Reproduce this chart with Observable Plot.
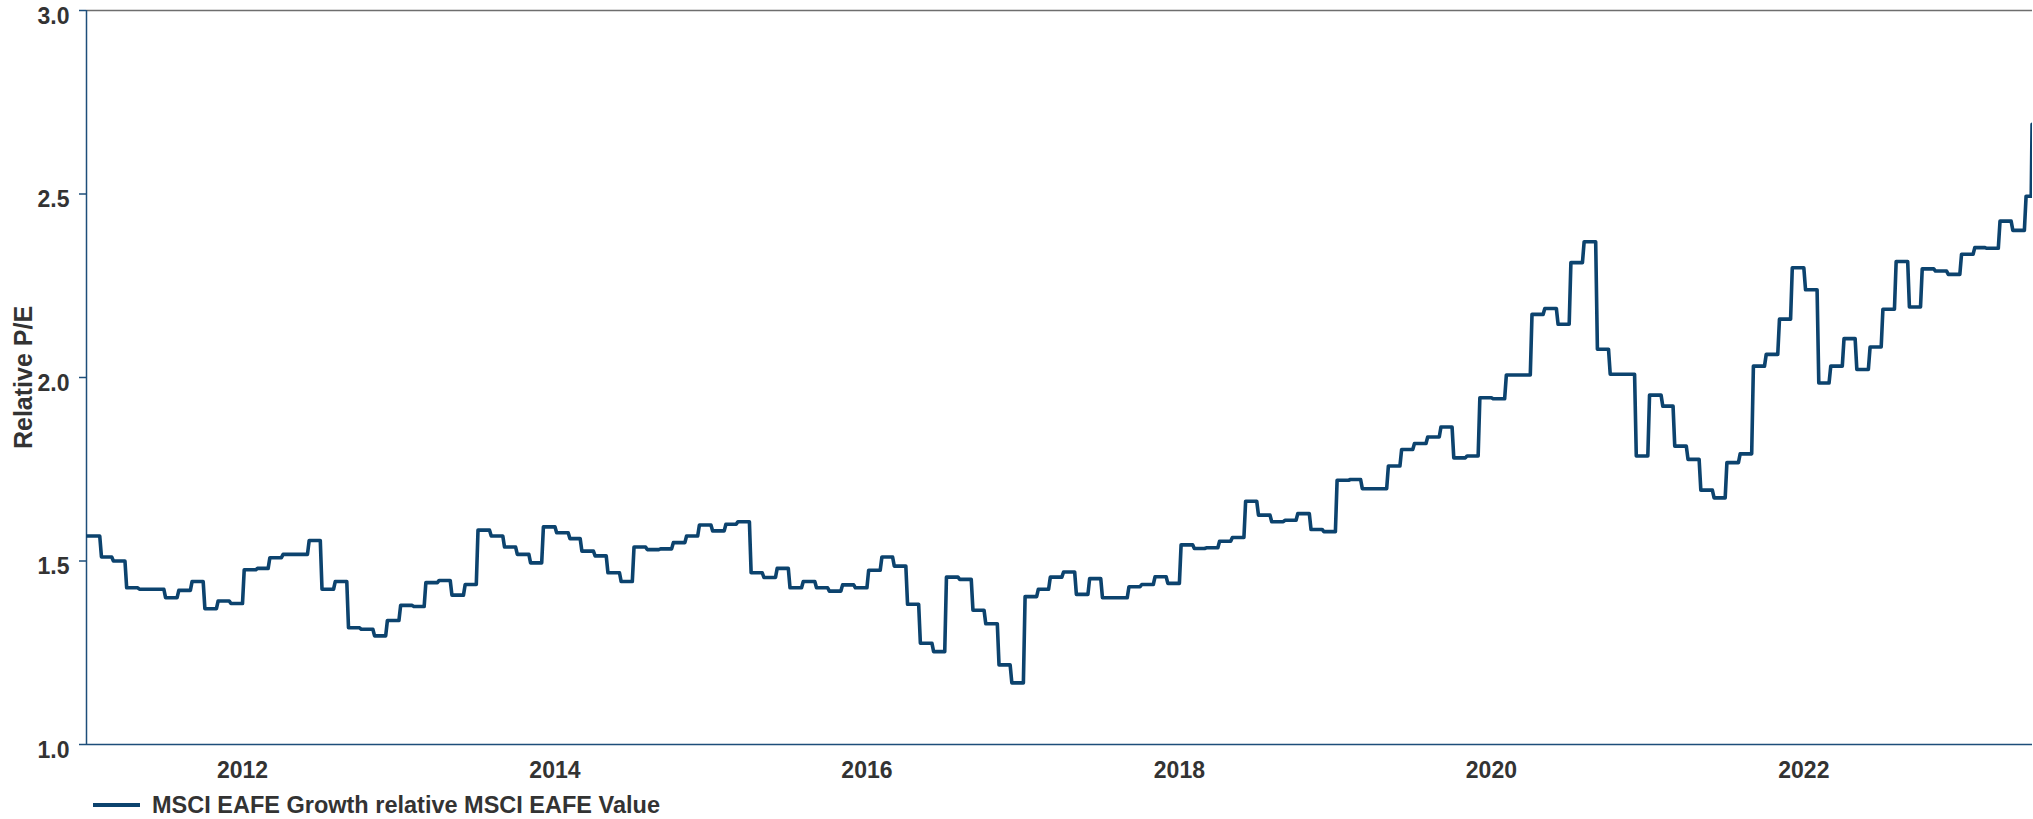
<!DOCTYPE html>
<html>
<head>
<meta charset="utf-8">
<script src="https://cdn.jsdelivr.net/npm/d3@7"></script>
<script src="https://cdn.jsdelivr.net/npm/@observablehq/plot@0.6"></script>
<style>
  html, body { margin: 0; padding: 0; background: #fff; font-family: "Liberation Sans", Arial, sans-serif; }
  #wrap { position: relative; width: 2033px; height: 819px; overflow: hidden; background: #fff; }
  #chart { position: absolute; left: 0; top: 0; width: 2033px; height: 790px; }
  #chart svg { display: block; }
  #legend { position: absolute; left: 93px; top: 792px; height: 26px; display: flex; align-items: center;
            font-weight: bold; font-size: 23.5px; color: #333; white-space: nowrap; }
  #legend .sw { display: inline-block; width: 47px; height: 4px; background: #0c436e; margin-right: 12px; }
</style>
</head>
<body>
<div id="wrap">
  <div id="chart"></div>
  <div id="legend"><span class="sw"></span><span id="legtext"></span></div>
</div>
<script>
// ---- data (monthly values) ----
const seriesName = "MSCI EAFE Growth relative MSCI EAFE Value";
const yTitle = "Relative P/E";
const years = [2011, 2012, 2013, 2014, 2015, 2016, 2017, 2018, 2019, 2020, 2021, 2022, 2023];
const v2011 = [1.568, 1.511, 1.500, 1.427, 1.423, 1.423, 1.400, 1.420, 1.444, 1.370, 1.391, 1.384];
const v2012 = [1.476, 1.480, 1.509, 1.518, 1.518, 1.556, 1.423, 1.444, 1.318, 1.314, 1.296, 1.338];
const v2013 = [1.379, 1.376, 1.441, 1.447, 1.407, 1.436, 1.584, 1.568, 1.538, 1.518, 1.495, 1.593];
const v2014 = [1.577, 1.561, 1.527, 1.514, 1.468, 1.444, 1.538, 1.531, 1.533, 1.550, 1.568, 1.598];
const v2015 = [1.582, 1.600, 1.607, 1.468, 1.455, 1.480, 1.427, 1.444, 1.427, 1.418, 1.435, 1.427];
const v2016 = [1.475, 1.511, 1.486, 1.382, 1.276, 1.253, 1.456, 1.450, 1.366, 1.329, 1.217, 1.168];
const v2017 = [1.403, 1.423, 1.456, 1.470, 1.409, 1.452, 1.400, 1.400, 1.430, 1.436, 1.457, 1.439];
const v2018 = [1.544, 1.534, 1.536, 1.554, 1.564, 1.663, 1.625, 1.607, 1.611, 1.629, 1.586, 1.580];
const v2019 = [1.720, 1.722, 1.697, 1.697, 1.759, 1.804, 1.820, 1.838, 1.865, 1.781, 1.786, 1.945];
const v2020 = [1.942, 2.007, 2.007, 2.172, 2.188, 2.145, 2.313, 2.370, 2.077, 2.009, 2.009, 1.786];
const v2021 = [1.952, 1.922, 1.813, 1.777, 1.693, 1.672, 1.768, 1.792, 2.031, 2.063, 2.159, 2.299];
const v2022 = [2.239, 1.985, 2.031, 2.106, 2.022, 2.083, 2.186, 2.316, 2.192, 2.296, 2.290, 2.281];
const v2023 = [2.336, 2.354, 2.352, 2.426, 2.401, 2.494];
const lastDate = "2023-06-19";
const lastValue = 2.69;
const xStart = "2011-01-01";
const xEnd = "2023-06-20";
const yTicks = [1.0, 1.5, 2.0, 2.5, 3.0];
const xTickYears = [2012, 2014, 2016, 2018, 2020, 2022];

// ---- build table ----
const yearValues = [v2011, v2012, v2013, v2014, v2015, v2016, v2017, v2018, v2019, v2020, v2021, v2022, v2023];
const last = new Date(lastDate + "T00:00:00Z");
const data = [];
yearValues.forEach((vals, i) => vals.forEach((v, m) => {
  const start = new Date(Date.UTC(years[i], m, (i === 0 && m === 0) ? 1 : 5));
  let end = new Date(Date.UTC(years[i], m + 1, 1));
  if (end >= last) end = new Date(+last - 2 * 864e5);
  data.push({date: start, value: v}, {date: end, value: v});
}));
data.push({date: last, value: lastValue});

const xDomain = [new Date(xStart + "T00:00:00Z"), new Date(xEnd + "T00:00:00Z")];
const xTicks = xTickYears.map(y => new Date(Date.UTC(y, 0, 1)));

const lineBlue = "#0c436e";
const axisBlue = "#1d4e7a";
const textColor = "#333333";

const chart = Plot.plot({
  width: 2033,
  height: 790,
  marginLeft: 86,
  marginRight: 1,
  marginTop: 10,
  marginBottom: 46,
  style: {fontFamily: "'Liberation Sans', Arial, sans-serif", fontSize: "23px", fontWeight: "bold", color: textColor, background: "#fff"},
  x: {type: "utc", domain: xDomain},
  y: {domain: [1, 3]},
  marks: [
    Plot.ruleY([3], {stroke: "#6e6e6e", strokeWidth: 1.5}),
    Plot.ruleY([1], {stroke: axisBlue, strokeWidth: 1.5}),
    Plot.ruleX([xDomain[0]], {stroke: axisBlue, strokeWidth: 1.5}),
    // tick marks only
    Plot.axisY({ticks: yTicks, tickSize: 7, stroke: axisBlue, strokeWidth: 1.5, fill: "none", label: null}),
    // tick labels only (slightly lowered, as in the reference)
    Plot.axisY({ticks: yTicks, tickFormat: d3.format(".1f"), tickSize: 0, tickPadding: 17, dy: 6,
                fill: textColor, label: null, fontSize: 23}),
    Plot.axisX({ticks: xTicks, tickFormat: d3.utcFormat("%Y"), tickSize: 0, tickPadding: 17,
                fill: textColor, label: null, fontSize: 23}),
    Plot.line(data, {x: "date", y: "value", stroke: lineBlue, strokeWidth: 3.6, clip: true}),
    Plot.text([yTitle], {frameAnchor: "left", dx: -63, rotate: -90, textAnchor: "middle",
                         text: d => d, fill: textColor, fontSize: 25, fontWeight: "bold"})
  ]
});
document.getElementById("chart").appendChild(chart);
document.getElementById("legtext").textContent = seriesName;
</script>
</body>
</html>
